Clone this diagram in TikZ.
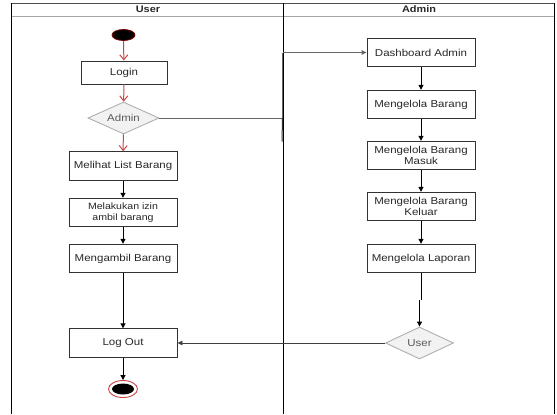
\documentclass[tikz,border=0pt]{standalone}
\usepackage{fontspec}
\setmainfont{Liberation Sans}[FakeStretch=1.15]
\usetikzlibrary{shapes.geometric,arrows.meta}
\definecolor{flowred}{RGB}{200,70,70}
\definecolor{darkred}{RGB}{120,0,0}
\definecolor{boxline}{RGB}{50,50,50}
\definecolor{boxtext}{RGB}{40,40,40}
\definecolor{diafill}{RGB}{242,242,242}
\definecolor{dialine}{RGB}{175,175,175}
\definecolor{diatext}{RGB}{90,90,90}
\tikzset{
  actbox/.style={draw=boxline, line width=0.9bp, fill=white, text=boxtext, minimum width=108bp, minimum height=28.5bp, inner sep=1bp, align=center, font=\fontsize{10bp}{10.5bp}\selectfont},
  decbox/.style={diamond, draw=dialine, line width=0.9bp, fill=diafill, inner sep=0pt, aspect=2.2, text=diatext, font=\fontsize{10bp}{10bp}\selectfont},
  blackflow/.style={draw=black, line width=1bp, -{Triangle[length=5bp,width=5bp]}},
  redflow/.style={draw=flowred, line width=1bp, -{Straight Barb[length=5bp,width=8bp]}},
  greyflow/.style={draw=black!60, line width=0.9bp},
  lanehead/.style={text=boxtext, font=\fontsize{9.5bp}{9.5bp}\selectfont\bfseries}
}
\begin{document}
\begin{tikzpicture}[x=1bp,y=-1bp]
\useasboundingbox (0,0) rectangle (557,414);
% swimlane frame
\draw[black!70, line width=0.9bp] (11.5,3) -- (554.5,3);
\draw[black!35, line width=1bp] (11.5,16) -- (554.5,16);
\draw[black, line width=1.4bp] (11.5,3) -- (11.5,414);
\draw[black, line width=1.4bp] (554.5,3) -- (554.5,414);
\draw[black, line width=1bp] (283.5,3) -- (283.5,414);
\node[lanehead] (hUser) at (148,9.5) {User};
\node[lanehead] (hAdmin) at (419,9.5) {Admin};

% user lane
\node[ellipse, fill=black, draw=darkred, line width=0.8bp, minimum width=23bp, minimum height=11bp, inner sep=0pt] (start) at (123.5,35) {};
\node[actbox, minimum width=86bp, minimum height=23bp] (login) at (124,72.5) {Login};
\node[decbox, minimum width=71bp, minimum height=32bp] (dadmin) at (123.5,118) {Admin};
\node[actbox] (lihat) at (123,166) {Melihat List Barang};
\node[actbox, font=\fontsize{9.2bp}{10.5bp}\selectfont] (izin) at (123,212.5) {Melakukan izin\\ambil barang};
\node[actbox] (ambil) at (123,258.5) {Mengambil Barang};
\node[actbox] (logout) at (123,343) {Log Out};
\node[ellipse, draw=flowred, line width=0.9bp, fill=white, minimum width=29bp, minimum height=17bp, inner sep=0pt] (endo) at (123,389) {};
\node[ellipse, fill=black, minimum width=22bp, minimum height=11bp, inner sep=0pt] (endi) at (123,389) {};

% admin lane
\node[actbox] (dash) at (421,52.5) {Dashboard Admin};
\node[actbox] (kelola) at (421,104.5) {Mengelola Barang};
\node[actbox] (masuk) at (421,155.5) {Mengelola Barang\\Masuk};
\node[actbox] (keluar) at (421,206.5) {Mengelola Barang\\Keluar};
\node[actbox] (lapor) at (421,258.5) {Mengelola Laporan};
\node[decbox, minimum width=68bp, minimum height=32bp] (duser) at (419.5,343) {User};

\coordinate (lanex) at (282.5,118);
\coordinate (lanetop) at (282.5,52.5);
\coordinate (stubend) at (282,141.5);
\coordinate (jog) at (421,300);

% connectors
\draw[redflow] (start) -- (login);
\draw[redflow] (login) -- (dadmin);
\draw[redflow] (dadmin) -- (lihat);
\draw[blackflow] (lihat) -- (izin);
\draw[blackflow] (izin) -- (ambil);
\draw[blackflow] (ambil) -- (logout);
\draw[blackflow] (logout) -- (endo);
\draw[greyflow] (dadmin.east) -- (lanex) -- (lanetop);
\draw[greyflow, -{Triangle[length=5bp,width=4.5bp]}] (lanetop) -- (dash.west);
\draw[black!80, line width=1bp] (lanex) -- (stubend);
\draw[blackflow] (dash) -- (kelola);
\draw[blackflow] (kelola) -- (masuk);
\draw[blackflow] (masuk) -- (keluar);
\draw[blackflow] (keluar) -- (lapor);
\draw[black, line width=1bp] (lapor.south) -- (jog);
\draw[blackflow] (jog -| duser.north) -- (duser.north);
\draw[black!75, line width=0.9bp, -{Triangle[length=5bp,width=4.5bp]}] (duser.west) -- (logout.east);
\end{tikzpicture}
\end{document}
